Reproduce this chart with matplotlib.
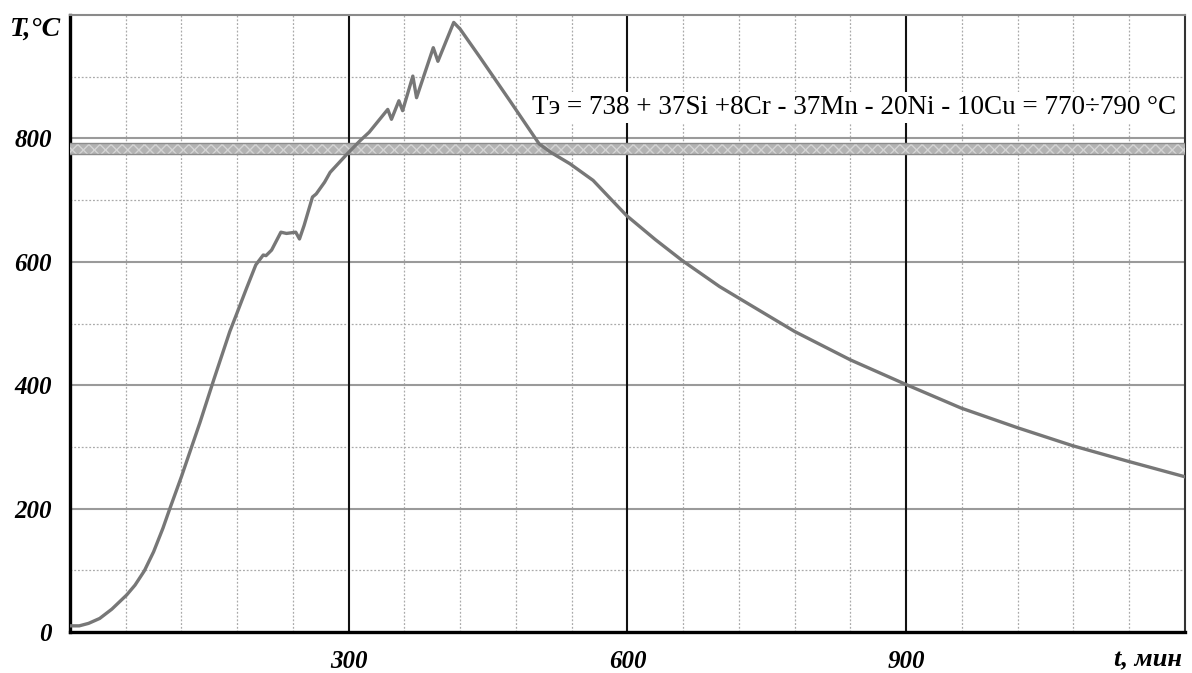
import numpy as np
import matplotlib.pyplot as plt

# heating / cooling curve (t in min, T in deg C)
t_min = [0, 10, 20, 32, 45, 61, 70, 80, 90, 100, 107, 120, 140, 155, 172, 179,
         190, 200, 208, 211, 217, 227, 233, 243, 247, 252, 261, 265, 274, 280,
         299, 312, 322, 342, 346, 354, 358, 369, 373, 391, 396, 413, 420, 441,
         473, 505, 518, 538, 563, 580, 599, 630, 659, 699, 720, 780, 840, 900,
         959, 1020, 1079, 1138, 1199]
temp_c = [10, 10, 14, 22, 37, 60, 76, 99, 130, 168, 198, 252, 340, 410, 487, 514,
          557, 595, 611, 610, 619, 648, 646, 648, 637, 659, 705, 710, 729, 745,
          776, 796, 810, 847, 831, 861, 845, 901, 866, 947, 925, 988, 977, 932,
          862, 791, 777, 759, 732, 705, 675, 636, 602, 560, 541, 487, 441, 401,
          363, 331, 302, 277, 252]

band_lo, band_hi = 774, 792
x_ticks = [300, 600, 900]
y_ticks = [0, 200, 400, 600, 800]
formula = "Tэ = 738 + 37Si +8Cr - 37Mn - 20Ni - 10Cu = 770÷790 °C"

fig = plt.figure(figsize=(11.92, 6.73), dpi=100)
ax = fig.add_axes([0.0587, 0.0609, 0.9354, 0.9168])
ax.set_xlim(0, 1200)
ax.set_ylim(0, 1000)

# grid
for v in range(100, 1000, 200):
    ax.axhline(v, color='#aaaaaa', lw=0.9, ls=(0, (1.5, 1.5)), zorder=1)
for v in range(60, 1200, 60):
    if v % 300:
        ax.axvline(v, color='#aaaaaa', lw=0.9, ls=(0, (1.5, 1.5)), zorder=1)
for v in y_ticks[1:]:
    ax.axhline(v, color='#9a9a9a', lw=1.5, zorder=2)
for v in x_ticks:
    ax.axvline(v, color='#111111', lw=1.5, zorder=2)

# eutectoid range band
ax.axhspan(band_lo, band_hi, facecolor='#b3b3b3', edgecolor='#d4d4d4',
           hatch='xxx', lw=0, zorder=3)
ax.axhline(band_hi, color='#8c8c8c', lw=1.0, zorder=3)
ax.axhline(band_lo, color='#8c8c8c', lw=1.0, zorder=3)

ax.plot(t_min, temp_c, color='#777777', lw=2.4, zorder=5, solid_joinstyle='round')

ax.text(1190, 850, formula, ha='right', va='center', fontsize=19.5,
        family='Liberation Serif', zorder=6,
        bbox=dict(facecolor='white', edgecolor='none', pad=2))

ax.set_xticks(x_ticks)
ax.set_yticks(y_ticks)
ax.tick_params(axis='x', length=0, pad=13)
ax.tick_params(axis='y', length=0, pad=13)
for lab in ax.get_xticklabels() + ax.get_yticklabels():
    lab.set_fontfamily('Liberation Serif')
    lab.set_fontstyle('italic')
    lab.set_fontweight('bold')
    lab.set_fontsize(18)

ax.spines['left'].set_linewidth(2.4)
ax.spines['bottom'].set_linewidth(2.4)
ax.spines['left'].set_color('black')
ax.spines['bottom'].set_color('black')
ax.spines['top'].set_color('#8a8a8a')
ax.spines['top'].set_linewidth(1.5)
ax.spines['right'].set_color('#333333')
ax.spines['right'].set_linewidth(1.5)

fig.text(0.008, 0.957, "T,°C", fontsize=20, family='Liberation Serif',
         style='italic', weight='bold', va='center')
fig.text(0.992, 0.02, "t, мин", fontsize=19, family='Liberation Serif',
         style='italic', weight='bold', ha='right', va='center')

fig.savefig('out.png', dpi=100)
